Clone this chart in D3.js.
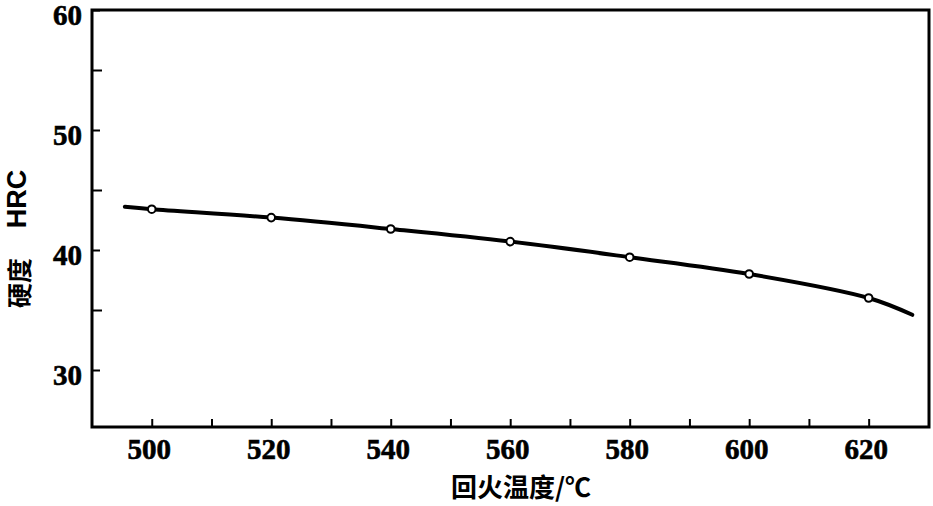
<!DOCTYPE html>
<html><head><meta charset="utf-8">
<script src="https://cdn.jsdelivr.net/npm/d3@7"></script>
<style>body{margin:0;background:#fff}svg{display:block}</style>
</head><body>
<svg id="c" width="933" height="506"></svg>
<script>
// Data
const temps = [500, 520, 540, 560, 580, 600, 620];
const hardness = [43.4, 42.7, 41.75, 40.7, 39.4, 38.0, 36.0];
const curveStart = [495.5, 43.6];
const curveEnd = [627.3, 34.6];
const xTicks = [500, 520, 540, 560, 580, 600, 620];
const xMinorTicks = [510, 530, 550, 570, 590, 610];
const yTicks = [30, 40, 50, 60];
const yMinorTicks = [35, 45, 55];
const xTitle = "回火温度/℃";
const yTitleCn = "硬度";
const yTitleEn = "HRC";

const svg = d3.select("#c");
const L = 92, R = 929, T = 10, B = 427;
const x = d3.scaleLinear().domain([490, 630.1]).range([L, R]);
const y = d3.scaleLinear().domain([25.25, 60]).range([B, T]);

// Frame
svg.append("rect").attr("x", L).attr("y", T).attr("width", R - L).attr("height", B - T)
  .attr("fill", "none").attr("stroke", "#000").attr("stroke-width", 3);

// Axes
const xAxis = d3.axisBottom(x).tickValues(xTicks).tickSize(-8).tickPadding(11).tickFormat(d3.format("d"));
const gx = svg.append("g").attr("transform", `translate(0,${B})`).call(xAxis);
gx.select(".domain").remove();
gx.selectAll(".tick line").attr("stroke", "#000").attr("stroke-width", 2);
gx.selectAll(".tick text").attr("font-family", "'Liberation Serif', serif").attr("font-weight", "bold")
  .attr("font-size", 29).attr("fill", "#000").attr("dx", -3).attr("dy", "0.72em")
  .attr("stroke", "#000").attr("stroke-width", 0.6);
const gxm = svg.append("g").attr("transform", `translate(0,${B})`)
  .call(d3.axisBottom(x).tickValues(xMinorTicks).tickSize(-8).tickFormat(""));
gxm.select(".domain").remove();
gxm.selectAll(".tick line").attr("stroke", "#000").attr("stroke-width", 2);

const yAxis = d3.axisLeft(y).tickValues(yTicks).tickSize(-8).tickPadding(10).tickFormat(d3.format("d"));
const gy = svg.append("g").attr("transform", `translate(${L},0)`).call(yAxis);
gy.select(".domain").remove();
gy.selectAll(".tick line").attr("stroke", "#000").attr("stroke-width", 2);
gy.selectAll(".tick text").attr("font-family", "'Liberation Serif', serif").attr("font-weight", "bold")
  .attr("font-size", 29).attr("fill", "#000").attr("dy", "0.5em")
  .attr("stroke", "#000").attr("stroke-width", 0.6);
const gym = svg.append("g").attr("transform", `translate(${L},0)`)
  .call(d3.axisLeft(y).tickValues(yMinorTicks).tickSize(-10).tickFormat(""));
gym.select(".domain").remove();
gym.selectAll(".tick line").attr("stroke", "#000").attr("stroke-width", 2);

// Curve
const pts = [curveStart].concat(temps.map((t, i) => [t, hardness[i]])).concat([curveEnd]);
const line = d3.line().x(d => x(d[0])).y(d => y(d[1])).curve(d3.curveCatmullRom.alpha(0.5));
svg.append("path").datum(pts).attr("d", line).attr("fill", "none")
  .attr("stroke", "#000").attr("stroke-width", 4).attr("stroke-linecap", "round");

// Markers
svg.selectAll("circle.m").data(temps).enter().append("circle").attr("class", "m")
  .attr("cx", (d) => x(d)).attr("cy", (d, i) => y(hardness[i])).attr("r", 3.8)
  .attr("fill", "#fff").attr("stroke", "#000").attr("stroke-width", 2);

// Titles
svg.append("text").attr("x", 521).attr("y", 497).attr("text-anchor", "middle")
  .attr("font-family", "'Noto Sans CJK SC', sans-serif").attr("font-weight", 700)
  .attr("font-size", 26).attr("fill", "#000").text(xTitle);
svg.append("text").attr("transform", "translate(29,283) rotate(-90)").attr("text-anchor", "middle")
  .attr("font-family", "'Noto Sans CJK SC', sans-serif").attr("font-weight", 700)
  .attr("font-size", 25).attr("fill", "#000").text(yTitleCn);
svg.append("text").attr("transform", "translate(17,199) rotate(-90)").attr("text-anchor", "middle")
  .attr("dominant-baseline", "central")
  .attr("font-family", "'Liberation Sans', sans-serif").attr("font-weight", "bold")
  .attr("font-size", 27).attr("fill", "#000").text(yTitleEn);
</script>
</body></html>
